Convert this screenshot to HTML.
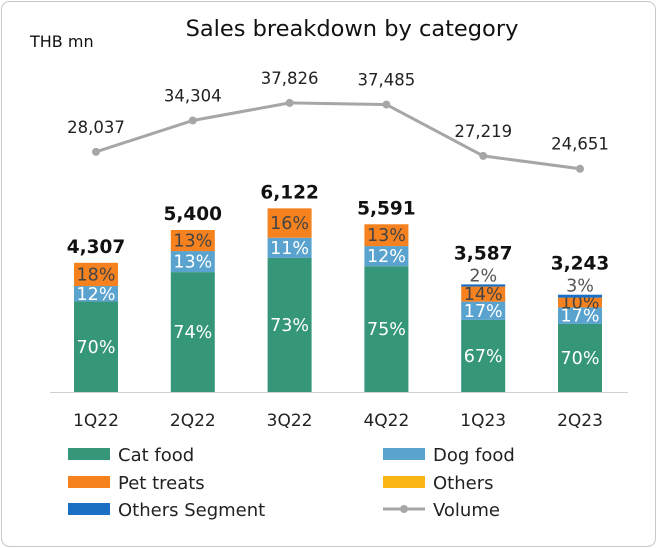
<!DOCTYPE html>
<html><head><meta charset="utf-8"><style>
body{margin:0;background:#fff;}
svg{display:block;font-family:"DejaVu Sans","Liberation Sans",sans-serif;}
</style></head><body>
<svg id="c" width="657" height="548">
<rect x="1.5" y="1.5" width="654" height="545" rx="8" fill="#fff" stroke="#c8c8c8"/>
<text x="352" y="36" font-size="22.5" text-anchor="middle" fill="#111">Sales breakdown by category</text>
<text x="30" y="47" font-size="16" fill="#111">THB mn</text>
<line x1="50" y1="392.5" x2="628" y2="392.5" stroke="#d0d0d0"/>
<g id="bars"></g><g id="line"></g><g id="axis"></g><g id="legend"></g>
</svg>
<script>
const categories=["1Q22","2Q22","3Q22","4Q22","1Q23","2Q23"];
const totals=[4307,5400,6122,5591,3587,3243];
const catFood=[70,74,73,75,67,70];
const dogFood=[12,13,11,12,17,17];
const petTreats=[18,13,16,13,14,10];
const others=[0,0,0,0,0,0];
const othersSeg=[0,0,0,0,2,3];
const volume=[28037,34304,37826,37485,27219,24651];
const NS="http://www.w3.org/2000/svg";
const svg=document.getElementById('c');
function mk(t,a,p,txt){const e=document.createElementNS(NS,t);for(const k in a)e.setAttribute(k,a[k]);if(txt!=null)e.textContent=txt;p.appendChild(e);return e;}
const xC=i=>96+i*96.8;
const yB=v=>392-v*0.03;
const yL=v=>292-v*0.005;
const bw=44;
const series=[{d:catFood,c:"#36967a",n:"cat-food",tc:"#fff"},{d:dogFood,c:"#5aa3cf",n:"dog-food",tc:"#fff"},{d:petTreats,c:"#f6821f",n:"pet-treats",tc:"#444"},{d:others,c:"#fbb515",n:"others",tc:"#444"},{d:othersSeg,c:"#1a6fc4",n:"others-segment",tc:"#555"}];
const gb=document.getElementById('bars');
categories.forEach((cat,i)=>{
  let cum=0;
  series.forEach(s=>{
    const p=s.d[i]; if(p<=0){return;}
    const y0=yB(totals[i]*cum/100), y1=yB(totals[i]*(cum+p)/100);
    const r=mk('rect',{x:xC(i)-bw/2,y:y1,width:bw,height:y0-y1,fill:s.c},gb);
    
    
    let ty=(y0+y1)/2+6, col=s.tc;
    if(p<5){ty=y1-3;col="#555";}
    const t=mk('text',{x:xC(i),y:ty,'font-size':17.5,'text-anchor':'middle',fill:col},gb,p+'%');
    
    
    cum+=p;
  });
  const lift=othersSeg[i]>0?25:10;
  const tt=mk('text',{x:xC(i),y:yB(totals[i])-lift,'font-size':18.5,'font-weight':'bold','text-anchor':'middle',fill:'#111'},gb,totals[i].toLocaleString('en-US'));
  
  
  const at=mk('text',{x:xC(i),y:426,'font-size':17,'text-anchor':'middle',fill:'#222'},document.getElementById('axis'),cat);
  
  
});
const gl=document.getElementById('line');
const pl=mk('polyline',{points:volume.map((v,i)=>xC(i)+','+yL(v)).join(' '),fill:'none',stroke:'#a6a6a6','stroke-width':3},gl);


volume.forEach((v,i)=>{
  const c=mk('circle',{cx:xC(i),cy:yL(v),r:4,fill:'#a6a6a6'},gl);
  
  
  const t=mk('text',{x:xC(i),y:yL(v)-19,'font-size':16.5,'text-anchor':'middle',fill:'#222'},gl,v.toLocaleString('en-US'));
  
  
});
const leg=[["Cat food","#36967a",68,454,0],["Dog food","#5aa3cf",383,454,0],["Pet treats","#f6821f",68,482,0],["Others","#fbb515",383,482,0],["Others Segment","#1a6fc4",68,509,0],["Volume","#a6a6a6",383,509,1]];
const lg=document.getElementById('legend');
leg.forEach(l=>{
  const g=mk('g',{},lg);
  
  
  if(l[4]){mk('line',{x1:l[2],y1:l[3],x2:l[2]+42,y2:l[3],stroke:l[1],'stroke-width':3},g);mk('circle',{cx:l[2]+21,cy:l[3],r:4,fill:l[1]},g);}
  else mk('rect',{x:l[2],y:l[3]-6,width:42,height:12,fill:l[1]},g);
  mk('text',{x:l[2]+50,y:l[3]+7,'font-size':18,fill:'#222'},g,l[0]);
});
</script>
</body></html>
